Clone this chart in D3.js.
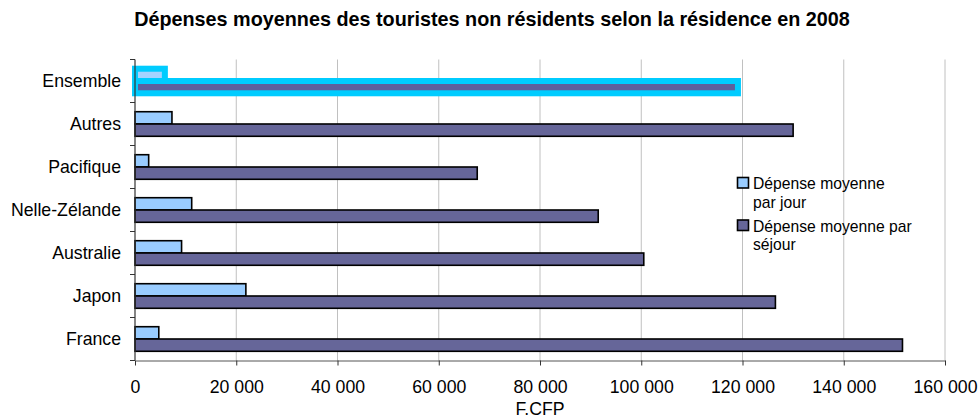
<!DOCTYPE html>
<html lang="fr">
<head>
<meta charset="utf-8">
<script src="https://cdn.jsdelivr.net/npm/d3@7"></script>
<style>
  html, body { margin: 0; padding: 0; background: #fff; }
  svg { display: block; font-family: "Liberation Sans", Arial, Helvetica, sans-serif; }
</style>
</head>
<body>
<svg id="chart" width="978" height="418"></svg>
<script>
// Pays / zones de résidence, du bas vers le haut du graphique
const categories = ["France", "Japon", "Australie", "Nelle-Zélande", "Pacifique", "Autres", "Ensemble"];
// Dépense moyenne par jour (F.CFP)
const parJour = [4700, 21900, 9200, 11200, 2700, 7300, 5900];
// Dépense moyenne par séjour (F.CFP)
const parSejour = [151600, 126500, 100500, 91500, 67600, 130000, 119100];
// Graduations de l'axe horizontal
const xTicks = [0, 20000, 40000, 60000, 80000, 100000, 120000, 140000, 160000];
const seriesNames = ["Dépense moyenne par jour", "Dépense moyenne par séjour"];
const highlighted = "Ensemble";

const svg = d3.select("#chart");
const plot = { left: 135, right: 945, top: 59.5, bottom: 360.5 };

const fr = d3.formatLocale({ decimal: ",", thousands: "\u00a0", grouping: [3], currency: ["", ""] });
const fmt = fr.format(",");

const x = d3.scaleLinear().domain([0, 160000]).range([plot.left, plot.right]);
const y = d3.scaleBand().domain(categories.slice().reverse()).range([plot.top, plot.bottom]).padding(0);
const ySub = d3.scaleBand().domain(["jour", "sejour"]).range([0, y.bandwidth()]).paddingInner(0).paddingOuter(0.75);

const rows = categories.map((c, i) => ({ cat: c, jour: parJour[i], sejour: parSejour[i] }));

// Titre
svg.append("text")
  .attr("x", 492).attr("y", 26)
  .attr("text-anchor", "middle")
  .attr("font-weight", "bold")
  .attr("font-size", 19.8)
  .attr("fill", "#000")
  .text("Dépenses moyennes des touristes non résidents selon la résidence en 2008");

// Quadrillage vertical
svg.append("g").selectAll("line")
  .data(xTicks.filter(t => t > 0))
  .join("line")
  .attr("x1", d => x(d)).attr("x2", d => x(d))
  .attr("y1", plot.top).attr("y2", plot.bottom)
  .attr("stroke", "#c0c0c0").attr("stroke-width", 1);

// Barres
const colors = { jour: "#99ccff", sejour: "#666699" };
const hiColors = { jour: "#a6d3ff", sejour: "#5f5f9c" };
const bars = [];
rows.forEach(r => {
  ["jour", "sejour"].forEach(k => bars.push({ cat: r.cat, key: k, value: r[k] }));
});

svg.append("g").selectAll("rect")
  .data(bars.filter(b => b.cat !== highlighted))
  .join("rect")
  .attr("x", x(0))
  .attr("y", d => y(d.cat) + ySub(d.key))
  .attr("width", d => x(d.value) - x(0))
  .attr("height", ySub.bandwidth())
  .attr("fill", d => colors[d.key])
  .attr("stroke", "#000")
  .attr("stroke-width", 1.6);

// Ligne « Ensemble » sélectionnée
svg.append("g").selectAll("rect")
  .data(bars.filter(b => b.cat === highlighted))
  .join("rect")
  .attr("x", x(0))
  .attr("y", d => y(d.cat) + ySub(d.key))
  .attr("width", d => x(d.value) - x(0))
  .attr("height", ySub.bandwidth())
  .attr("fill", d => hiColors[d.key])
  .attr("stroke", "#00ccff")
  .attr("stroke-width", 6);

// Axe vertical
const yAxis = d3.axisLeft(y).tickSize(0).tickPadding(14);
const gy = svg.append("g").attr("transform", `translate(${plot.left},0)`).call(yAxis);
gy.select(".domain").remove();
gy.selectAll("text").attr("font-size", 17.7).attr("fill", "#000").attr("font-family", null);
// repères entre les catégories
svg.append("g").selectAll("line")
  .data(d3.range(categories.length + 1))
  .join("line")
  .attr("x1", plot.left - 5).attr("x2", plot.left)
  .attr("y1", i => plot.top + i * y.step()).attr("y2", i => plot.top + i * y.step())
  .attr("stroke", "#333").attr("stroke-width", 1);
svg.append("line")
  .attr("x1", plot.left).attr("x2", plot.left)
  .attr("y1", plot.top).attr("y2", plot.bottom)
  .attr("stroke", "#333").attr("stroke-width", 1.2);

// Axe horizontal
const xAxis = d3.axisBottom(x).tickValues(xTicks).tickFormat(fmt).tickSize(5).tickPadding(15).tickSizeOuter(0);
const gx = svg.append("g").attr("transform", `translate(0,${plot.bottom})`).call(xAxis);
gx.select(".domain").attr("stroke", "#555");
gx.selectAll(".tick line").attr("stroke", "#333");
gx.selectAll("text").attr("font-size", 17.7).attr("fill", "#000").attr("font-family", null);

svg.append("text")
  .attr("x", (plot.left + plot.right) / 2).attr("y", 414.5)
  .attr("text-anchor", "middle")
  .attr("font-size", 17.7)
  .attr("fill", "#000")
  .text("F.CFP");

// Légende
const legend = svg.append("g");
const legendItems = [
  { key: "jour", lines: ["Dépense moyenne", "par jour"], top: 177.5 },
  { key: "sejour", lines: ["Dépense moyenne par", "séjour"], top: 220 }
];
legendItems.forEach((it, i) => {
  legend.append("rect")
    .attr("x", 737.5).attr("y", it.top)
    .attr("width", 11).attr("height", 10.5)
    .attr("fill", colors[it.key])
    .attr("stroke", "#000").attr("stroke-width", 1.6)
    .append("title").text(seriesNames[i]);
  const t = legend.append("text")
    .attr("x", 753).attr("y", it.top + 11.8)
    .attr("font-size", 15.7).attr("fill", "#000");
  it.lines.forEach((l, j) => {
    t.append("tspan").attr("x", 753).attr("dy", j === 0 ? 0 : 18.5).text(l);
  });
});
</script>
</body>
</html>
